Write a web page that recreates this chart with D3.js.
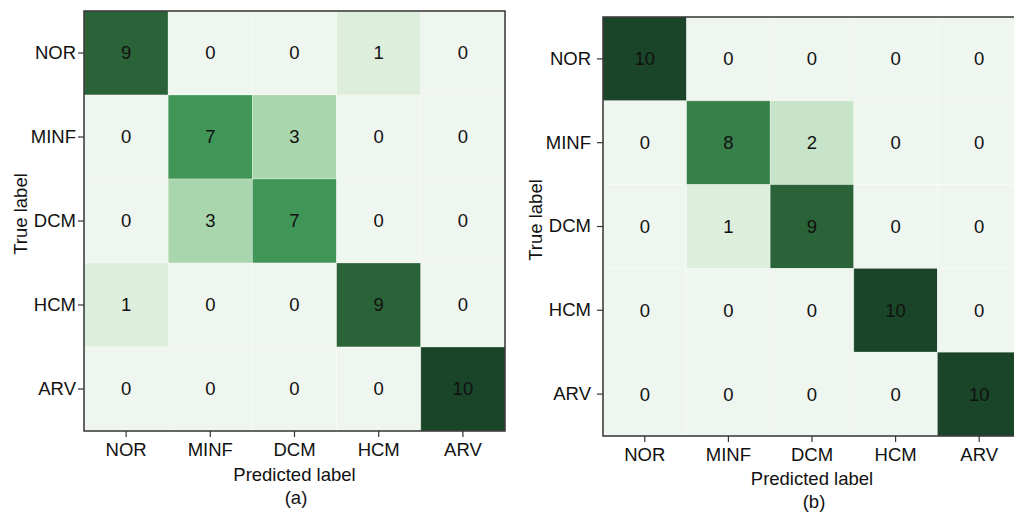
<!DOCTYPE html>
<html>
<head>
<meta charset="utf-8">
<script src="https://cdn.jsdelivr.net/npm/d3@7"></script>
<style>
  body { margin: 0; background: #fff; }
  svg text { font-family: "Liberation Sans", Arial, sans-serif; fill: #111; }
</style>
</head>
<body>
<div id="chart"></div>
<script>
// Class labels (rows = true, columns = predicted)
var classes = ["NOR", "MINF", "DCM", "HCM", "ARV"];

// Confusion matrix (a)
var matrixA = [
  [9, 0, 0, 1, 0],
  [0, 7, 3, 0, 0],
  [0, 3, 7, 0, 0],
  [1, 0, 0, 9, 0],
  [0, 0, 0, 0, 10]
];

// Confusion matrix (b)
var matrixB = [
  [10, 0, 0, 0, 0],
  [0, 8, 2, 0, 0],
  [0, 1, 9, 0, 0],
  [0, 0, 0, 10, 0],
  [0, 0, 0, 0, 10]
];

// colour stops
var colorValues = [0, 1, 2, 3, 7, 8, 9, 10];
var colorStops = ["#eff5ef", "#ddeedc", "#c7e4c8", "#aad6ae", "#3f9657", "#37804a", "#2b6338", "#1a4529"];

var color = d3.scaleLinear()
  .domain(colorValues)
  .range(colorStops);

var svg = d3.select("#chart")
  .append("svg")
  .attr("width", 1014)
  .attr("height", 512);

function drawMatrix(data, box, labels) {
  var g = svg.append("g");

  var x = d3.scaleBand().domain(classes).range([box.x0, box.x1]);
  var y = d3.scaleBand().domain(classes).range([box.y0, box.y1]);

  // cells
  var cells = [];
  data.forEach(function (row, i) {
    row.forEach(function (v, j) {
      cells.push({ t: classes[i], p: classes[j], v: v });
    });
  });

  g.selectAll(".cell")
    .data(cells)
    .enter()
    .append("rect")
    .attr("class", "cell")
    .attr("x", function (d) { return x(d.p); })
    .attr("y", function (d) { return y(d.t); })
    .attr("width", x.bandwidth())
    .attr("height", y.bandwidth())
    .attr("fill", function (d) { return color(d.v); })
    .attr("stroke", "#ffffff")
    .attr("stroke-opacity", 0.35)
    .attr("stroke-width", 0.8);

  g.selectAll(".num")
    .data(cells)
    .enter()
    .append("text")
    .attr("class", "num")
    .attr("x", function (d) { return x(d.p) + x.bandwidth() / 2; })
    .attr("y", function (d) { return y(d.t) + y.bandwidth() / 2; })
    .attr("dy", "0.35em")
    .attr("text-anchor", "middle")
    .style("font-size", "18.5px")
    .text(function (d) { return d.v; });

  // frame
  g.append("rect")
    .attr("x", box.x0)
    .attr("y", box.y0)
    .attr("width", box.x1 - box.x0)
    .attr("height", box.y1 - box.y0)
    .attr("fill", "none")
    .attr("stroke", "#333")
    .attr("stroke-width", 1.5);

  // axes
  var xAxis = g.append("g")
    .attr("transform", "translate(0," + box.y1 + ")")
    .call(d3.axisBottom(x).tickSize(6).tickPadding(box.xPad));
  var yAxis = g.append("g")
    .attr("transform", "translate(" + box.x0 + ",0)")
    .call(d3.axisLeft(y).tickSize(6).tickPadding(box.yPad));

  [xAxis, yAxis].forEach(function (a) {
    a.select(".domain").remove();
    a.selectAll("line").attr("stroke", "#333").attr("stroke-width", 1.2);
    a.selectAll("text").style("font-size", "18.5px").attr("fill", "#111");
  });

  // axis labels
  g.append("text")
    .attr("text-anchor", "middle")
    .attr("x", (box.x0 + box.x1) / 2 + box.xLabShift)
    .attr("y", box.xLabY)
    .style("font-size", "18.5px")
    .text("Predicted label");

  g.append("text")
    .attr("text-anchor", "middle")
    .attr("transform", "translate(" + box.yLabX + "," + box.yLabY + ") rotate(-90)")
    .style("font-size", "18.5px")
    .text("True label");

  g.append("text")
    .attr("text-anchor", "middle")
    .attr("x", box.capX)
    .attr("y", box.capY)
    .style("font-size", "18.5px")
    .text(labels.caption);
}

drawMatrix(matrixA,
  { x0: 84, x1: 505, y0: 11, y1: 431, xPad: 6, yPad: 2,
    xLabShift: 0, xLabY: 481, yLabX: 27, yLabY: 214, capX: 296, capY: 504 },
  { caption: "(a)" });

drawMatrix(matrixB,
  { x0: 603, x1: 1021, y0: 17, y1: 436, xPad: 6, yPad: 6,
    xLabShift: 0, xLabY: 485, yLabX: 542, yLabY: 220, capX: 814, capY: 508 },
  { caption: "(b)" });
</script>
</body>
</html>
